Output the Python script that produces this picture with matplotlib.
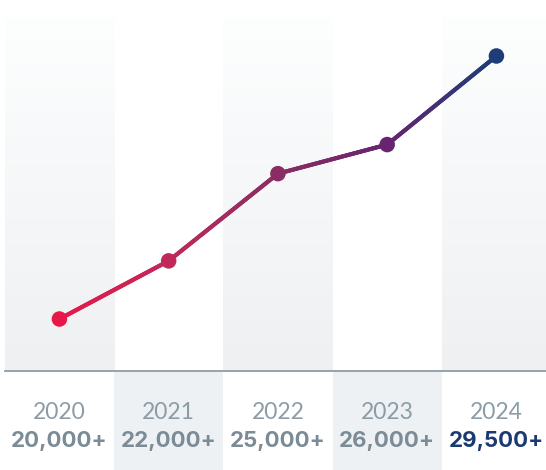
import numpy as np
import matplotlib
matplotlib.use("Agg")
import matplotlib.pyplot as plt
from matplotlib.collections import LineCollection
from matplotlib.colors import LinearSegmentedColormap

years = ["2020", "2021", "2022", "2023", "2024"]
labels = ["20,000+", "22,000+", "25,000+", "26,000+", "29,500+"]
counts = [20000, 22100, 25250, 26300, 29500]
point_colors = ["#e8174a", "#c02a5a", "#8a2d64", "#682470", "#1c3d78"]
label_colors = ["#7b8c97", "#7b8c97", "#7b8c97", "#7b8c97", "#1c3a72"]

W, H = 546, 470
fig = plt.figure(figsize=(W / 100, H / 100), dpi=100)
fig.patch.set_facecolor("white")

x = np.arange(len(years))
colw = 109.25
left_px = 4.8
xl = (-0.5, -0.5 + (W - left_px) / colw)
left = left_px / W
width = 1 - left

# upper plot axes: y px 17..371
ax = fig.add_axes([left, (H - 371) / H, width, (371 - 17) / H])
ymin, ymax = 18122, 30908
ax.set_xlim(*xl)
ax.set_ylim(ymin, ymax)
ax.axis("off")

grad = np.linspace(0, 1, 256).reshape(-1, 1)
bg_cmap = LinearSegmentedColormap.from_list("bg", ["#eef0f2", "#fdfefe"])
for i in x:
    if i % 2 == 0:
        ax.imshow(grad, extent=(i - 0.5, i + 0.5, ymin, ymax), origin="lower",
                  cmap=bg_cmap, aspect="auto", zorder=0, interpolation="bilinear")
ax.set_xlim(*xl)
ax.set_ylim(ymin, ymax)

# gradient line
line_cmap = LinearSegmentedColormap.from_list("ln", point_colors)
n = 400
xs = np.linspace(0, len(years) - 1, n)
ys = np.interp(xs, x, counts)
pts = np.column_stack([xs, ys]).reshape(-1, 1, 2)
segs = np.concatenate([pts[:-1], pts[1:]], axis=1)
lc = LineCollection(segs, cmap=line_cmap, linewidths=3.0, capstyle="round", zorder=2)
lc.set_array(xs[:-1] / (len(years) - 1))
ax.add_collection(lc)
ax.scatter(x, counts, s=125, c=point_colors, zorder=3, edgecolors="none")

# lower label axes: y px 371..470
ax2 = fig.add_axes([left, 0, width, (H - 371) / H])
ax2.set_xlim(*xl)
ax2.set_ylim(0, 1)
ax2.axis("off")
for i in x:
    if i % 2 == 1:
        ax2.axvspan(i - 0.5, i + 0.5, color="#eef1f3", zorder=0, lw=0)
    ax2.text(i, 0.576, years[i], ha="center", va="center", fontsize=16.5,
             family="Lato", weight="normal", color="#8c9ca7")
    ax2.text(i, 0.29, labels[i], ha="center", va="center", fontsize=16,
             family="Inter", weight="bold", color=label_colors[i])
ax2.axhline(1.0, color="#8d9ca6", lw=1.3, zorder=3, clip_on=False)

fig.savefig("out.png", dpi=100, facecolor="white")
